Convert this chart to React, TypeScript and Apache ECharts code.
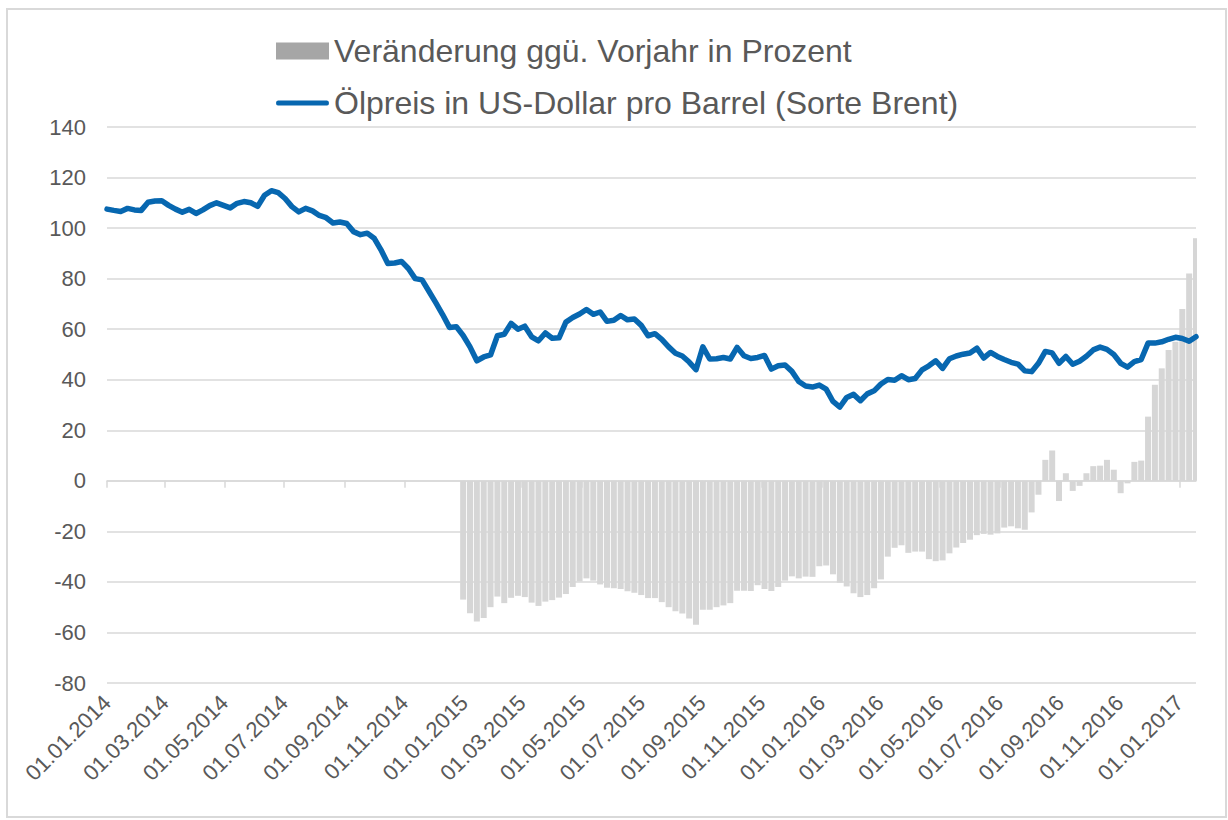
import React, { useEffect, useRef } from "react";
import * as echarts from "echarts";

// ---------- data ----------
const START_DATE = Date.UTC(2014, 0, 1);
const DAY_MS = 86400000;
const DAY_COUNT = 1114; // 01.01.2014 .. 18.01.2017
const WEEK_STEP = 7; // one reading per week
const BAR_START_WEEK = 52; // YoY change starts at turn of year 2014/2015

const BAR_NAME = "Veränderung ggü. Vorjahr in Prozent";
const LINE_NAME = "Ölpreis in US-Dollar pro Barrel (Sorte Brent)";

// Brent oil price, weekly readings (USD per barrel)
const oilPrice2014 = [
  107.5, 107.0, 106.6, 107.8, 107.2, 107.0, 110.2, 110.7, 110.8, 109.0,
  107.5, 106.3, 107.4, 105.8, 107.2, 108.9, 110.0, 109.0, 108.0, 109.8,
  110.5, 110.0, 108.6, 113.0, 114.8, 114.0, 111.7, 108.5, 106.4, 107.8,
  106.8, 105.0, 104.1, 102.0, 102.4, 101.8, 98.6, 97.4, 98.0, 96.0,
  91.4, 86.0, 86.2, 86.8, 84.0, 80.0, 79.5, 75.0, 70.5, 65.8,
  60.7, 61.0,
];
const oilPrice2015 = [
  57.5, 53.0, 47.5, 49.0, 49.8, 57.4, 58.0, 62.3,
  60.0, 61.2, 57.0, 55.4, 58.5, 56.4, 56.6, 62.8, 64.6, 66.0,
  67.8, 65.9, 66.8, 63.1, 63.5, 65.4, 63.7, 64.0, 61.5, 57.4,
  58.2, 56.0, 53.0, 50.5, 49.4, 47.0, 44.0, 53.0, 48.2, 48.3,
  48.8, 48.2, 52.8, 49.5, 48.4, 48.8, 49.6, 44.2, 45.5, 45.8,
  43.3, 39.3, 37.5, 37.1,
];
const oilPrice2016 = [
  37.9, 36.3, 31.4, 29.2, 33.0, 34.2,
  31.7, 34.4, 35.6, 38.3, 40.1, 39.8, 41.6, 40.0, 40.5, 43.9,
  45.5, 47.5, 44.5, 48.3, 49.4, 50.1, 50.6, 52.5, 48.6, 50.8,
  49.2, 48.0, 46.9, 46.2, 43.5, 43.2, 46.5, 51.2, 50.6, 46.5,
  49.2, 46.1, 47.3, 49.3, 51.8, 52.9, 52.0, 50.0, 46.5, 45.0,
  47.2, 48.0, 54.5, 54.5, 55.0, 56.0, 56.8,
];
const oilPrice2017 = [56.3, 55.2, 57.0];

// Change versus previous year in percent, weekly readings from week 52
const yoyChange = [
  -47, -52.4, -55.7, -54.3, -50, -45.8, -48.4, -46.3,
  -45.5, -46, -48.2, -49.5, -47.8, -47.2, -46.2, -44.8, -42, -39.8,
  -38.6, -39.5, -41, -42.3, -42.5, -42.8, -43.7, -44.3, -45.2, -46.4,
  -46.4, -48, -50, -51.6, -52.5, -54.5, -57, -51, -51, -50,
  -49.3, -48.4, -43.5, -43.5, -43.6, -41.3, -42.8, -43.6, -42, -39.5,
  -37.8, -38.6, -37.9, -38, -33.8, -33.5, -37, -40.3, -41.8, -44.5,
  -46, -45.2, -42.5, -39, -30, -26.5, -25.5, -28.5, -28, -28,
  -31, -31.8, -31.5, -28.7, -26.4, -24.6, -23.3, -21.5, -21, -21.3,
  -20.8, -18.5, -18, -18.8, -19.4, -12.5, -5.5, 8.3, 12, -8,
  3, -4, -2, 3, 5.8, 6, 8.3, 4.4, -4.9, -1,
  7.5, 8, 25.4, 38, 44.5, 51.8, 55, 68, 82, 96,
];

const Y_MIN = -80;
const Y_MAX = 140;
const Y_INTERVAL = 20;

// ---------- helpers ----------
const pad2 = (n: number) => (n < 10 ? "0" + n : "" + n);
const dateAt = (i: number) => new Date(START_DATE + i * DAY_MS);
const dateLabels: string[] = [];
for (let i = 0; i < DAY_COUNT; i++) {
  const d = dateAt(i);
  dateLabels.push(`${pad2(d.getUTCDate())}.${pad2(d.getUTCMonth() + 1)}.${d.getUTCFullYear()}`);
}
const isMajor = (i: number) => {
  const d = dateAt(i);
  return d.getUTCDate() === 1 && d.getUTCMonth() % 2 === 0;
};

const oilPrice = [...oilPrice2014, ...oilPrice2015, ...oilPrice2016, ...oilPrice2017];
const lineData: (number | null)[] = new Array(DAY_COUNT).fill(null);
oilPrice.forEach((v, k) => {
  const idx = k * WEEK_STEP;
  if (idx < DAY_COUNT) lineData[idx] = v;
});
const barData: (number | null)[] = new Array(DAY_COUNT).fill(null);
yoyChange.forEach((v, j) => {
  const idx = (BAR_START_WEEK + j) * WEEK_STEP;
  if (idx < DAY_COUNT) barData[idx] = v;
});

const FONT = "'Liberation Sans', Arial, sans-serif";
const TEXT = "#595959";
const GRID_COLOR = "#d9d9d9";
const BLUE = "#0767b0";
// thin horizontal bar inside a 53x17 box (corner points keep the box size)
const LINE_ICON =
  "path://M0,0 L0.01,0 M2,6 L51,6 Q53,6 53,8.5 Q53,11 51,11 L2,11 Q0,11 0,8.5 Q0,6 2,6 Z M53,17 L52.99,17";

export default function App() {
  const ref = useRef<HTMLDivElement>(null);
  useEffect(() => {
    if (!ref.current) return;
    const chart = echarts.init(ref.current, undefined, { renderer: "svg" });
    chart.setOption({
      animation: false,
      backgroundColor: "#ffffff",
      textStyle: { fontFamily: FONT },
      graphic: [
        {
          type: "rect",
          shape: { x: 7, y: 9, width: 1219, height: 808 },
          style: { fill: "none", stroke: GRID_COLOR, lineWidth: 2 },
          silent: true,
        },
      ],
      legend: {
        orient: "vertical",
        left: 276,
        top: 33,
        padding: 0,
        itemGap: 16,
        itemWidth: 53,
        itemHeight: 17,
        textStyle: { fontSize: 32, color: TEXT, fontFamily: FONT, lineHeight: 36 },
        data: [
          { name: BAR_NAME, icon: "rect", itemStyle: { color: "#a6a6a6" } },
          { name: LINE_NAME, icon: LINE_ICON, itemStyle: { color: BLUE } },
        ],
      },
      grid: { left: 107, right: 32, top: 127, bottom: 137, containLabel: false },
      xAxis: [
        {
          type: "category",
          data: dateLabels,
          boundaryGap: false,
          position: "bottom",
          axisLine: { show: false, onZero: false },
          axisTick: { show: false },
          splitLine: { show: false },
          axisLabel: {
            interval: (i: number) => isMajor(i),
            rotate: 45,
            fontSize: 22,
            color: TEXT,
            fontFamily: FONT,
            margin: 16,
          },
        },
        {
          type: "category",
          data: dateLabels,
          boundaryGap: false,
          position: "top",
          axisLine: { show: true, onZero: true, lineStyle: { color: GRID_COLOR, width: 1.5 } },
          axisTick: {
            show: true,
            inside: true,
            length: 7,
            interval: (i: number) => isMajor(i),
            lineStyle: { color: GRID_COLOR, width: 1.5 },
          },
          axisLabel: { show: false },
          splitLine: { show: false },
        },
      ],
      yAxis: {
        type: "value",
        min: Y_MIN,
        max: Y_MAX,
        interval: Y_INTERVAL,
        axisLine: { show: false },
        axisTick: { show: false },
        axisLabel: { fontSize: 22, color: TEXT, fontFamily: FONT, margin: 21 },
        splitLine: { lineStyle: { color: GRID_COLOR, width: 1.5 } },
      },
      series: [
        {
          name: BAR_NAME,
          type: "bar",
          xAxisIndex: 0,
          data: barData,
          barWidth: 6,
          itemStyle: { color: "#d6d6d6" },
        },
        {
          name: LINE_NAME,
          type: "line",
          xAxisIndex: 0,
          data: lineData,
          connectNulls: true,
          symbol: "none",
          itemStyle: { color: BLUE },
          lineStyle: { width: 5.5, color: BLUE, join: "round", cap: "round" },
          z: 5,
        },
      ],
    });
    return () => chart.dispose();
  }, []);
  return (
    <div
      ref={ref}
      style={{ position: "fixed", left: 0, top: 0, width: 1228, height: 820 }}
    />
  );
}
